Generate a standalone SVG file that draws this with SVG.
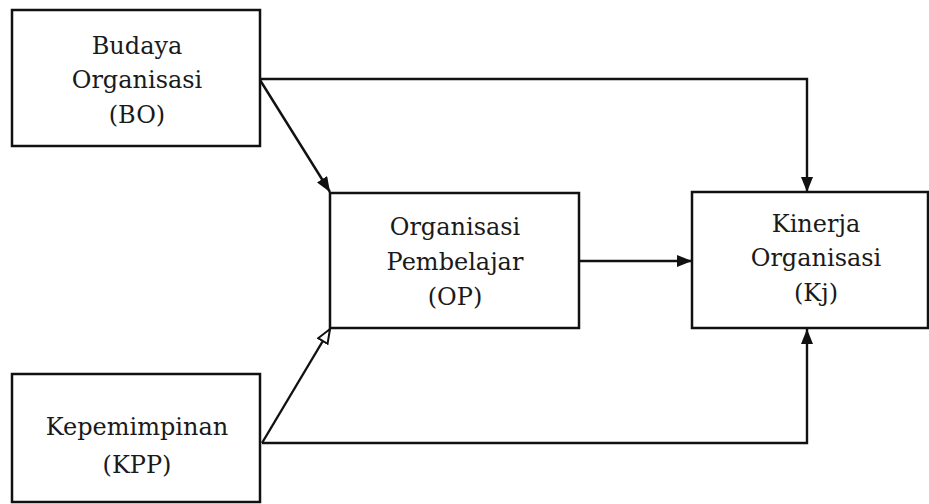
<svg xmlns="http://www.w3.org/2000/svg" width="929" height="504" viewBox="0 0 929 504">
<style>
.box{fill:#fff;stroke:#111;stroke-width:2.5}
.t{font-family:'DejaVu Serif','Liberation Serif',serif;font-size:24px;fill:#1a1a1a;text-anchor:middle}
.c{fill:none;stroke:#111;stroke-width:2.4}
</style>
<defs>
<marker id="ah" viewBox="0 0 15 12" refX="15" refY="6" markerWidth="15" markerHeight="12" markerUnits="userSpaceOnUse" orient="auto">
<path d="M0,0 L15,6 L0,12 Z" fill="#111"/>
</marker>
<marker id="ao" viewBox="0 0 16 14" refX="15" refY="7" markerWidth="16" markerHeight="14" markerUnits="userSpaceOnUse" orient="auto">
<path d="M1,1.5 L15,7 L1,12.5 Z" fill="#fff" stroke="#111" stroke-width="2"/>
</marker>
</defs>
<rect width="929" height="504" fill="#fff"/>
<g id="connectors">
<path class="c" d="M260,79 L807,79 L807,192" marker-end="url(#ah)"/>
<path class="c" d="M260,80 L330,192" marker-end="url(#ah)"/>
<path class="c" d="M262,443 L330,329" marker-end="url(#ao)"/>
<path class="c" d="M262,443 L807,443 L807,329" marker-end="url(#ah)"/>
<path class="c" d="M579,261 L692,261" marker-end="url(#ah)"/>
</g>
<g id="BO">
<rect class="box" x="12" y="10" width="248" height="136"/>
<text class="t" x="137" y="54">Budaya</text>
<text class="t" x="137" y="88">Organisasi</text>
<text class="t" x="137" y="123">(BO)</text>
</g>
<g id="OP">
<rect class="box" x="330" y="193" width="249" height="135"/>
<text class="t" x="455" y="235">Organisasi</text>
<text class="t" x="455" y="270">Pembelajar</text>
<text class="t" x="455" y="305">(OP)</text>
</g>
<g id="Kj">
<rect class="box" x="692" y="192" width="236" height="136"/>
<text class="t" x="816" y="232">Kinerja</text>
<text class="t" x="816" y="266">Organisasi</text>
<text class="t" x="816" y="301">(Kj)</text>
</g>
<g id="KPP">
<rect class="box" x="12" y="374" width="248" height="128"/>
<text class="t" x="137" y="435">Kepemimpinan</text>
<text class="t" x="137" y="473">(KPP)</text>
</g>
</svg>
